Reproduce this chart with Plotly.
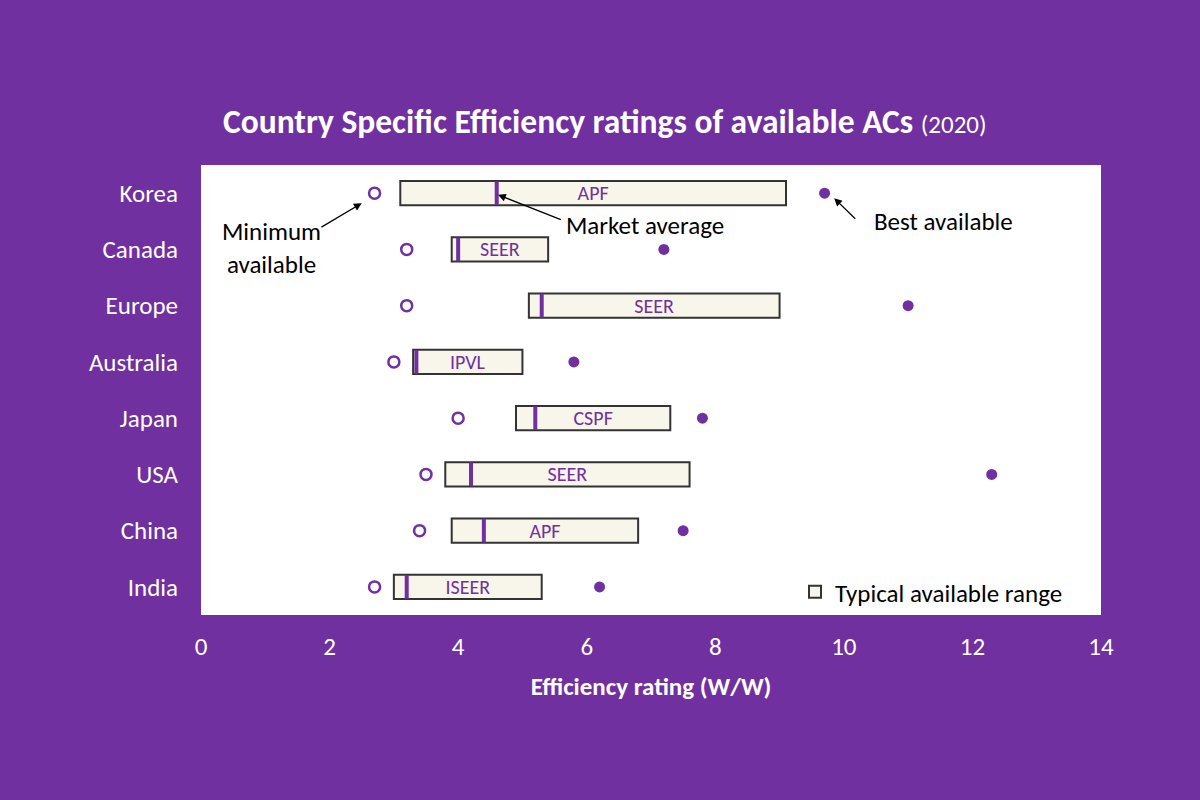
import plotly.graph_objects as go

countries = ["Korea", "Canada", "Europe", "Australia", "Japan", "USA", "China", "India"]
metrics = ["APF", "SEER", "SEER", "IPVL", "CSPF", "SEER", "APF", "ISEER"]
range_low = [3.1, 3.9, 5.1, 3.3, 4.9, 3.8, 3.9, 3.0]
range_high = [9.1, 5.4, 9.0, 5.0, 7.3, 7.6, 6.8, 5.3]
market_avg = [4.6, 4.0, 5.3, 3.35, 5.2, 4.2, 4.4, 3.2]
min_avail = [2.7, 3.2, 3.2, 3.0, 4.0, 3.5, 3.4, 2.7]
best_avail = [9.7, 7.2, 11.0, 5.8, 7.8, 12.3, 7.5, 6.2]

PURPLE = "#7030a0"
BG = "#7030a0"
FONT = "Carlito, Lato, sans-serif"

fig = go.Figure()

fig.add_trace(go.Bar(
    y=countries, x=[h - l for l, h in zip(range_low, range_high)], base=range_low,
    orientation="h", width=0.43, name="Typical available range",
    marker=dict(color="#f8f5ea", line=dict(color="#333333", width=2)),
    text=metrics, textposition="inside", insidetextanchor="middle", constraintext="none",
    textfont=dict(color=PURPLE, size=20, family=FONT), hoverinfo="skip",
))
fig.add_trace(go.Scatter(
    y=countries, x=market_avg, mode="markers", showlegend=False,
    marker=dict(symbol="line-ns", size=17, line=dict(width=4, color=PURPLE)),
))
fig.add_trace(go.Scatter(
    y=countries, x=min_avail, mode="markers", showlegend=False,
    marker=dict(symbol="circle-open", size=11, color=PURPLE, line=dict(width=2.5)),
))
fig.add_trace(go.Scatter(
    y=countries, x=best_avail, mode="markers", showlegend=False,
    marker=dict(symbol="circle", size=11, color=PURPLE),
))

# callouts
notes = [
    (1.1, 0.98, "Minimum<br>available", 1.85, 0.62, 2.5, 0.18),
    (6.9, 0.57, "Market average", 5.62, 0.48, 4.62, 0.03),
    (11.55, 0.5, "Best available", 10.2, 0.48, 9.85, 0.09),
]
for tx, ty, label, x0, y0, x1, y1 in notes:
    fig.add_annotation(x=tx, y=ty, xref="x", yref="y", text=label, showarrow=False,
                       font=dict(size=25, color="black", family=FONT))
    fig.add_annotation(x=x1, y=y1, ax=x0, ay=y0, xref="x", yref="y", axref="x", ayref="y",
                       text="", showarrow=True, arrowhead=2, arrowsize=1.2,
                       arrowwidth=1.3, arrowcolor="black")

fig.update_layout(
    width=1200, height=800,
    paper_bgcolor=BG, plot_bgcolor="white",
    margin=dict(l=201, r=99, t=165, b=185),
    font=dict(family=FONT, color="white", size=25),
    title=dict(
        text="<b>Country Specific Efficiency ratings of available ACs</b> <span style='font-size:25px'>(2020)</span>",
        x=0.504, xanchor="center", y=0.848, yanchor="middle",
        font=dict(size=33.5, color="white", family=FONT),
    ),
    xaxis=dict(range=[0, 14], dtick=2, showgrid=False, zeroline=False,
               ticks="", ticklen=0, ticklabelstandoff=14,
               title=dict(text="<b>Efficiency rating (W/W)</b>", font=dict(size=25), standoff=16)),
    yaxis=dict(categoryorder="array", categoryarray=countries, range=[7.5, -0.5],
               showgrid=False, ticks="", ticklabelstandoff=22),
    legend=dict(x=0.66, y=0.0, xanchor="left", yanchor="bottom",
                bgcolor="rgba(0,0,0,0)", font=dict(color="black", size=25, family=FONT)),
    showlegend=True,
)

fig.write_html("out.html", config={"displayModeBar": False},
               post_script="document.body.style.margin='0';")
